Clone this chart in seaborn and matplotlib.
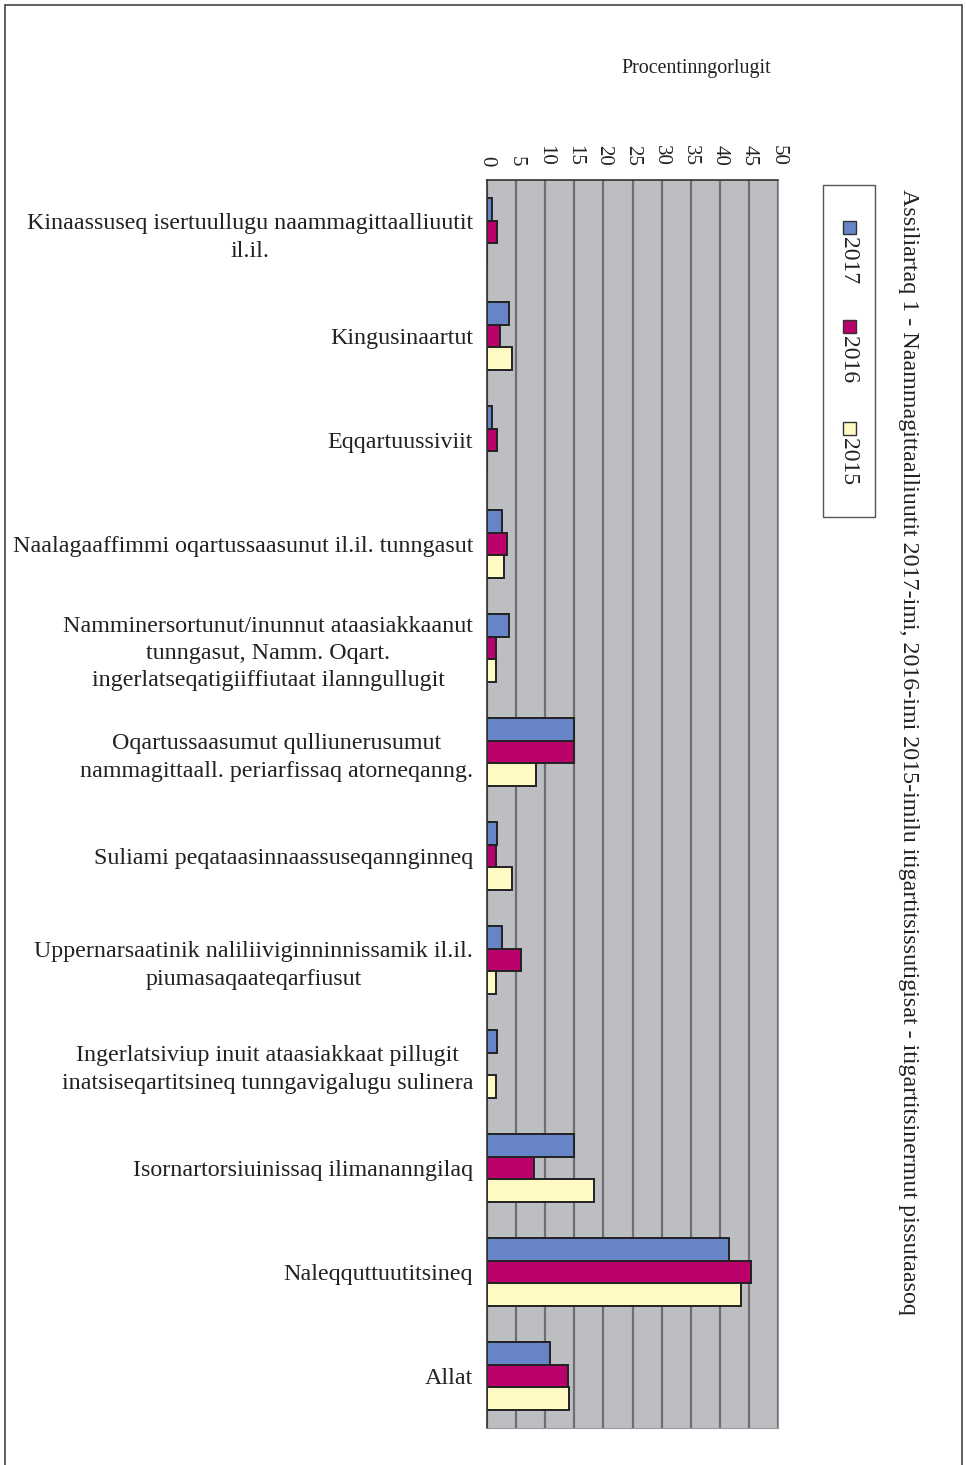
# Naammagittaalliuutit itigartitsissutigisat, 2015-2017 - horizontal bars, rotated page layout

import pandas as pd
import matplotlib
matplotlib.use('Agg')
import matplotlib.pyplot as plt
import matplotlib.patches as mpatches
import seaborn as sns

categories = [
    'Kinaassuseq isertuullugu naammagittaalliuutit\nil.il.',
    'Kingusinaartut',
    'Eqqartuussiviit',
    'Naalagaaffimmi oqartussaasunut il.il. tunngasut',
    'Namminersortunut/inunnut ataasiakkaanut\ntunngasut, Namm. Oqart.\ningerlatseqatigiiffiutaat ilanngullugit',
    'Oqartussaasumut qulliunerusumut\nnammagittaall. periarfissaq atorneqanng.',
    'Suliami peqataasinnaassuseqannginneq',
    'Uppernarsaatinik naliliiviginninnissamik il.il.\npiumasaqaateqarfiusut',
    'Ingerlatsiviup inuit ataasiakkaat pillugit\ninatsiseqartitsineq tunngavigalugu sulinera',
    'Isornartorsiuinissaq ilimananngilaq',
    'Naleqquttuutitsineq',
    'Allat',
]
years = ['2017', '2016', '2015']
vals_2017 = [0.8, 3.7, 0.8, 2.6, 3.7, 15.0, 1.8, 2.6, 1.8, 15.0, 41.5, 10.8]
vals_2016 = [1.7, 2.3, 1.7, 3.4, 1.6, 15.0, 1.6, 5.8, 0.0, 8.0, 45.3, 13.9]
vals_2015 = [0.0, 4.3, 0.0, 2.9, 1.5, 8.4, 4.3, 1.5, 1.5, 18.3, 43.7, 14.1]
colors = ['#6684C6', '#BA006A', '#FFF9C4']

title = ('Assiliartaq 1 - Naammagittaalliuutit 2017-imi, 2016-imi 2015-imilu '
         'itigartitsissutigisat - itigartitsinermut pissutaasoq')

df = pd.DataFrame({'Kategori': categories * 3,
                   'Year': [y for y in years for _ in categories],
                   'Procent': vals_2017 + vals_2016 + vals_2015})

sns.set_style('white')
plt.rcParams['font.family'] = ['Liberation Serif', 'DejaVu Serif']

W, H = 966, 1465
fig = plt.figure(figsize=(W / 100, H / 100), dpi=100)
ax = fig.add_axes([487 / W, 1 - 1428 / H, (778 - 487) / W, (1428 - 180) / H])

sns.barplot(data=df, x='Procent', y='Kategori', hue='Year', hue_order=years,
            palette=colors, orient='h', width=0.66, edgecolor='#222222',
            linewidth=1.4, saturation=1, legend=False, ax=ax)

ax.set_facecolor('#BDBEC2')
ax.set_xlim(0, 50)
ax.set_ylim(len(categories) - 0.5, -0.5)
ax.set_xticks(range(0, 51, 5))
ax.xaxis.tick_top()
ax.grid(axis='x', color='#6E6E70', linewidth=1.6)
ax.set_axisbelow(True)
ax.set_xlabel('')
ax.set_ylabel('')
for lbl in ax.get_xticklabels():
    lbl.set_rotation(-90)
    lbl.set_fontsize(15)
    lbl.set_color('#222222')
ax.tick_params(axis='x', length=0, pad=10)

# category labels centred, boundary tick marks like the original
ax.set_yticks(range(len(categories)))
ax.set_yticklabels(categories, fontsize=17.3, color='#222222',
                   multialignment='center', linespacing=1.38)
ax.tick_params(axis='y', length=0, pad=10)
ax.set_yticks([i + 0.5 for i in range(-1, len(categories))], minor=True)
ax.tick_params(axis='y', which='minor', length=7, width=1, color='#333333')

for side in ['left', 'top']:
    ax.spines[side].set_color('#333333')
    ax.spines[side].set_linewidth(1.2)
ax.spines['right'].set_color('#9A9A9C')
ax.spines['bottom'].set_color('#9A9A9C')

fig.text(696 / W, 1 - 68 / H, 'Procentinngorlugit', ha='center', va='center',
         fontsize=14.4, color='#222222')
fig.text(908 / W, 1 - 752 / H, title, rotation=-90, ha='center', va='center',
         fontsize=17.3, color='#222222')

# rotated legend box
fig.patches.append(mpatches.Rectangle((823 / W, 1 - 517 / H), 52 / W, 332 / H,
                                      transform=fig.transFigure, fill=False,
                                      edgecolor='#555555', linewidth=1))
for yr, col, ys in zip(years, colors, [227, 326, 428]):
    fig.patches.append(mpatches.Rectangle(((849 - 6.5) / W, 1 - (ys + 6.5) / H), 13 / W, 13 / H,
                                          transform=fig.transFigure, facecolor=col,
                                          edgecolor='#333333', linewidth=1))
    fig.text(849 / W, 1 - (ys + 10) / H, yr, rotation=-90, ha='center', va='top',
             fontsize=17, color='#222222')

# page frame
fig.patches.append(mpatches.Rectangle((5 / W, -0.01), 957 / W, 1 - 5 / H + 0.01,
                                      transform=fig.transFigure, fill=False,
                                      edgecolor='#444444', linewidth=1.2))

fig.savefig('out.png', dpi=100)
